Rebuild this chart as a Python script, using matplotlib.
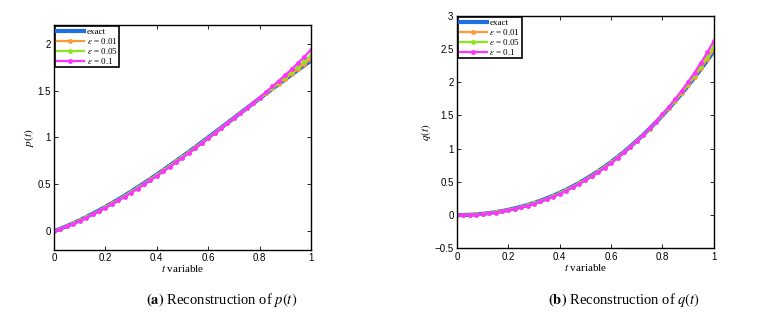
import numpy as np
import matplotlib
matplotlib.use("Agg")
import matplotlib.pyplot as plt

plt.rcParams['mathtext.fontset'] = 'stix'

# malla de tiempo
t = np.linspace(0, 1, 41)

# p(t): solucion exacta y reconstrucciones con ruido
p_exacta = [0, 0.0268, 0.0554, 0.0857, 0.1175, 0.1510, 0.1859, 0.2223, 0.2601, 0.2991, 0.3395,
            0.3810, 0.4236, 0.4673, 0.5120, 0.5576, 0.6041, 0.6514, 0.6995, 0.7483, 0.7976,
            0.8476, 0.8980, 0.9489, 1.0001, 1.0517, 1.1035, 1.1555, 1.2076, 1.2598, 1.3120,
            1.3641, 1.4161, 1.4679, 1.5195, 1.5707, 1.6216, 1.6720, 1.7219, 1.7713, 1.8200]
p_001 = [0, 0.0264, 0.0547, 0.0847, 0.1162, 0.1494, 0.1841, 0.2202, 0.2578, 0.2965, 0.3368,
         0.3780, 0.4205, 0.4640, 0.5086, 0.5541, 0.6006, 0.6479, 0.6960, 0.7448, 0.7942,
         0.8443, 0.8950, 0.9460, 0.9975, 1.0495, 1.1017, 1.1541, 1.2066, 1.2593, 1.3120,
         1.3648, 1.4174, 1.4701, 1.5228, 1.5751, 1.6275, 1.6794, 1.7313, 1.7831, 1.8350]
p_005 = [0, 0.0261, 0.0542, 0.0838, 0.1151, 0.1481, 0.1825, 0.2185, 0.2558, 0.2943, 0.3345,
         0.3755, 0.4178, 0.4613, 0.5058, 0.5511, 0.5976, 0.6449, 0.6930, 0.7418, 0.7914,
         0.8416, 0.8925, 0.9436, 0.9953, 1.0476, 1.1001, 1.1529, 1.2057, 1.2588, 1.3120,
         1.3665, 1.4209, 1.4761, 1.5315, 1.5870, 1.6432, 1.6994, 1.7565, 1.8150, 1.8752]
p_01 = [0, 0.0253, 0.0529, 0.0817, 0.1125, 0.1450, 0.1789, 0.2143, 0.2511, 0.2891, 0.3290,
        0.3695, 0.4116, 0.4548, 0.4990, 0.5441, 0.5906, 0.6379, 0.6860, 0.7348, 0.7846,
        0.8351, 0.8865, 0.9379, 0.9901, 1.0432, 1.0965, 1.1500, 1.2036, 1.2578, 1.3120,
        1.3691, 1.4261, 1.4849, 1.5445, 1.6047, 1.6666, 1.7290, 1.7939, 1.8623, 1.9350]

# q(t)
q_exacta = [0, 0.0012, 0.0047, 0.0106, 0.0191, 0.0300, 0.0436, 0.0598, 0.0788, 0.1005, 0.1250,
            0.1525, 0.1829, 0.2163, 0.2527, 0.2923, 0.3351, 0.3811, 0.4305, 0.4831, 0.5393,
            0.5988, 0.6620, 0.7287, 0.7991, 0.8731, 0.9510, 1.0327, 1.1183, 1.2078, 1.3013,
            1.3989, 1.5007, 1.6066, 1.7167, 1.8312, 1.9500, 2.0732, 2.2009, 2.3332, 2.4700]
q_001 = [0, 0.0010, 0.0044, 0.0100, 0.0182, 0.0288, 0.0421, 0.0580, 0.0767, 0.0981, 0.1223,
         0.1495, 0.1796, 0.2127, 0.2488, 0.2882, 0.3309, 0.3767, 0.4260, 0.4786, 0.5348,
         0.5944, 0.6578, 0.7248, 0.7955, 0.8699, 0.9484, 1.0307, 1.1171, 1.2073, 1.3016,
         1.4001, 1.5030, 1.6101, 1.7215, 1.8377, 1.9583, 2.0840, 2.2147, 2.3509, 2.4925]
q_005 = [0, 0.0010, 0.0043, 0.0097, 0.0178, 0.0282, 0.0414, 0.0572, 0.0757, 0.0970, 0.1210,
         0.1481, 0.1781, 0.2110, 0.2470, 0.2864, 0.3289, 0.3747, 0.4239, 0.4765, 0.5327,
         0.5924, 0.6558, 0.7230, 0.7938, 0.8685, 0.9473, 1.0298, 1.1165, 1.2071, 1.3022,
         1.4025, 1.5075, 1.6170, 1.7311, 1.8506, 1.9748, 2.1056, 2.2423, 2.3863, 2.5375]
q_01 = [0, 0.0007, 0.0037, 0.0086, 0.0161, 0.0260, 0.0386, 0.0538, 0.0718, 0.0925, 0.1160,
        0.1425, 0.1719, 0.2043, 0.2397, 0.2788, 0.3211, 0.3666, 0.4155, 0.4681, 0.5243,
        0.5843, 0.6480, 0.7157, 0.7871, 0.8626, 0.9425, 1.0262, 1.1143, 1.2063, 1.3033,
        1.4069, 1.5157, 1.6296, 1.7487, 1.8742, 2.0050, 2.1452, 2.2929, 2.4512, 2.6200]

etiquetas = ['exact', r'$\epsilon$ = 0.01', r'$\epsilon$ = 0.05', r'$\epsilon$ = 0.1']
colores = ['#1f6fe0', '#ff9933', '#8fe61a', '#ff33ff']


def graficar(ax, exacta, ruidos, ylim, yticks, yticklabels, ylabel):
    ax.plot(t, exacta, color=colores[0], lw=3, label=etiquetas[0])
    for serie, color, etiqueta in zip(ruidos, colores[1:], etiquetas[1:]):
        ax.plot(t, serie, color=color, lw=1.6, marker='o', ms=3.5, mew=0, label=etiqueta)
    ax.set_xlim(0, 1)
    ax.set_ylim(*ylim)
    ax.set_xticks([0, 0.2, 0.4, 0.6, 0.8, 1])
    ax.set_xticklabels(['0', '0.2', '0.4', '0.6', '0.8', '1'])
    ax.set_yticks(yticks)
    ax.set_yticklabels(yticklabels)
    ax.tick_params(direction='in', top=True, right=True, length=3, labelsize=7, width=0.6, pad=2.5)
    for lbl in ax.get_xticklabels() + ax.get_yticklabels():
        lbl.set_family('Liberation Sans')
    for s in ax.spines.values():
        s.set_linewidth(1.0)
    ax.set_xlabel(r'$t$ variable', family='Liberation Serif', fontsize=8, labelpad=0)
    ax.set_ylabel(ylabel, fontsize=8, labelpad=1)
    leg = ax.legend(loc='upper left', prop={'family': 'Liberation Serif', 'size': 6.5},
                    borderaxespad=0.15, handlelength=3.0, handletextpad=0.3,
                    labelspacing=0.0, borderpad=0.15, fancybox=False, framealpha=1)
    leg.get_frame().set_edgecolor('black')
    leg.get_frame().set_linewidth(1.2)


fig = plt.figure(figsize=(7.6, 3.17), dpi=100)
ax1 = fig.add_axes([0.0711, 0.2114, 0.338, 0.7098])
ax2 = fig.add_axes([0.6013, 0.2167, 0.338, 0.7338])

graficar(ax1, p_exacta, [p_001, p_005, p_01], (-0.2, 2.2), [0, 0.5, 1, 1.5, 2],
         ['0', '0.5', '1', '1.5', '2'], r'$p(t)$')
graficar(ax2, q_exacta, [q_001, q_005, q_01], (-0.5, 3), [-0.5, 0, 0.5, 1, 1.5, 2, 2.5, 3],
         ['\u22120.5', '0', '0.5', '1', '1.5', '2', '2.5', '3'], r'$q(t)$')

fig.text(0.291, 0.054, r'$\mathbf{(a)}$ Reconstruction of $p(t)$', ha='center', va='center',
         family='Liberation Serif', fontsize=10.5)
fig.text(0.821, 0.054, r'$\mathbf{(b)}$ Reconstruction of $q(t)$', ha='center', va='center',
         family='Liberation Serif', fontsize=10.5)

fig.savefig('out.png', dpi=100)
